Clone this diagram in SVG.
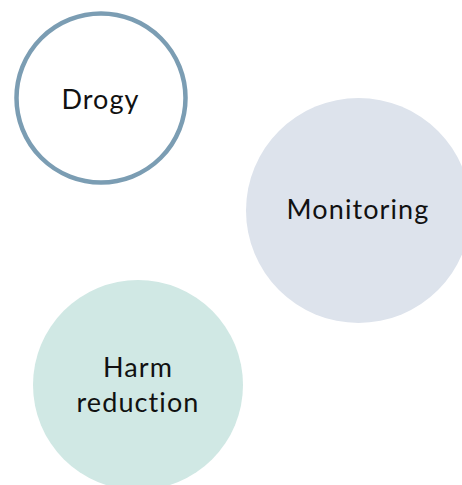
<svg xmlns="http://www.w3.org/2000/svg" width="462" height="485" viewBox="0 0 462 485">
<style>
.lbl{font-family:"Lato","Open Sans","Liberation Sans",sans-serif;font-size:27px;fill:#111;text-anchor:middle;letter-spacing:1.1px}
</style>
<rect width="462" height="485" fill="#fff"/>
<g id="connectors"/>
<g id="node-drogy">
<circle cx="101" cy="98" r="84.5" fill="#fff" stroke="#7b9db3" stroke-width="4.5"/>
<text class="lbl" x="100.5" y="109">Drogy</text>
</g>
<g id="node-monitoring">
<circle cx="358.5" cy="210.5" r="112.5" fill="#dde3ec"/>
<text class="lbl" x="358" y="219">Monitoring</text>
</g>
<g id="node-harm">
<circle cx="138" cy="385" r="105" fill="#d0e8e4"/>
<text class="lbl" x="138" y="377">Harm</text>
<text class="lbl" x="138" y="412">reduction</text>
</g>
</svg>
